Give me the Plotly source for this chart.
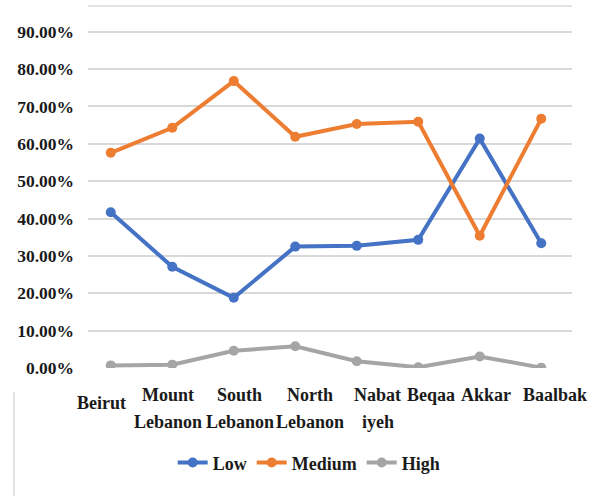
import plotly.graph_objects as go

# Share of respondents per governorate by level
regions = [["Beirut"], ["Mount", "Lebanon"], ["South", "Lebanon"], ["North", "Lebanon"],
           ["Nabat", "iyeh"], ["Beqaa"], ["Akkar"], ["Baalbak"]]
low = [41.7, 27.1, 18.8, 32.5, 32.7, 34.3, 61.4, 33.4]
medium = [57.6, 64.3, 76.8, 61.9, 65.3, 65.9, 35.4, 66.7]
high = [0.7, 0.9, 4.6, 5.8, 1.8, 0.2, 3.1, 0.1]

y_ticks = [0, 10, 20, 30, 40, 50, 60, 70, 80, 90]
y_labels = [f"{v:.2f}%" for v in y_ticks]

series = [
    ("Low", low, "#4472C4"),
    ("Medium", medium, "#ED7D31"),
    ("High", high, "#A5A5A5"),
]

font_family = "Liberation Serif, Times New Roman, serif"
text_color = "#1a1a1a"
grid_color = "#d9d9d9"

fig = go.Figure()
for name, values, color in series:
    fig.add_trace(go.Scatter(
        x=list(range(len(regions))), y=values, name=name,
        mode="lines+markers",
        line=dict(color=color, width=4),
        marker=dict(color=color, size=10),
    ))

# Category labels: spread sideways so the long names do not collide,
# with a roomy line gap between the two rows of each name.
label_nudge_x = [-9, -4, 6, 15, 21, 13, 6, 14]
label_nudge_y = [-8, 0, 0, 0, 0, 0, 0, 0]
annotations = []
for i, lines in enumerate(regions):
    for j, text in enumerate(lines):
        annotations.append(dict(
            x=i, xref="x", y=0, yref="paper",
            text=text, showarrow=False,
            xanchor="center", yanchor="middle",
            xshift=label_nudge_x[i], yshift=-27 - 27 * j + label_nudge_y[i],
            font=dict(family=font_family, size=18, color=text_color, weight="bold"),
        ))

fig.update_layout(
    width=603, height=496,
    margin=dict(l=88, r=31, t=6, b=128),
    paper_bgcolor="white", plot_bgcolor="white",
    font=dict(family=font_family, size=17, color=text_color),
    showlegend=True,
    legend=dict(orientation="h", x=0.457, xanchor="center", y=-0.262, yanchor="middle",
                font=dict(family=font_family, size=18, color=text_color, weight="bold"),
                itemwidth=30, tracegroupgap=0),
    xaxis=dict(
        range=[-0.37, 7.5], showgrid=False, zeroline=False, showline=False,
        ticks="", showticklabels=False,
    ),
    yaxis=dict(
        range=[0, 96.9], tickvals=y_ticks, ticktext=y_labels,
        showgrid=True, gridcolor=grid_color, gridwidth=1.5,
        zeroline=False, showline=False, ticks="", ticklabelstandoff=13,
        tickfont=dict(family=font_family, size=17.5, color=text_color, weight="bold"),
    ),
    annotations=annotations,
    shapes=[
        dict(type="line", xref="paper", yref="paper", x0=0, x1=1, y0=1, y1=1,
             line=dict(color=grid_color, width=1.5)),
        dict(type="line", xref="paper", yref="paper", x0=-0.153, x1=-0.153,
             y0=-0.066, y1=-0.36, line=dict(color=grid_color, width=1.5)),
    ],
)

fig.write_html("out.html")
